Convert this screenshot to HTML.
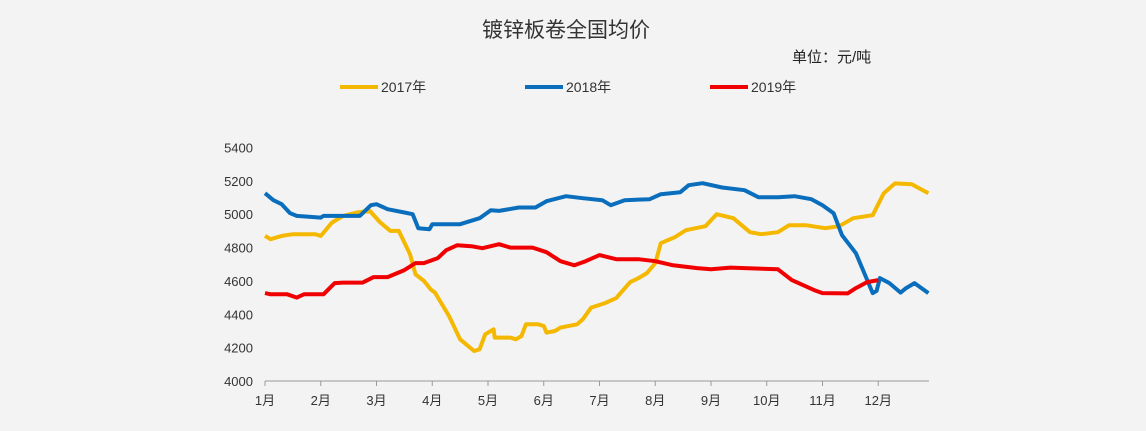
<!DOCTYPE html>
<html><head><meta charset="utf-8"><style>
html,body{margin:0;padding:0;background:#f3f3f3;}
svg text{font-family:"Liberation Sans","Noto Sans CJK SC",sans-serif;}
</style></head><body>
<svg width="1146" height="426" viewBox="0 0 1146 426">
<rect width="1146" height="426" fill="#f3f3f3"/>
<text x="566" y="37" font-size="21" text-anchor="middle" fill="#333">镀锌板卷全国均价</text>
<text x="792" y="62" font-size="15" fill="#222">单位：元/吨</text>
<g id="legend"></g>
<g id="axes"></g>
<g id="series"></g>
</svg>
<script>
const months=["1月","2月","3月","4月","5月","6月","7月","8月","9月","10月","11月","12月"];
const yTicks=[4000,4200,4400,4600,4800,5000,5200,5400];
const seriesNames=["2017年","2018年","2019年"];
const seriesColors=["#f5b800","#0a6ebd","#f00000"];
const x2017=[0,0.1,0.3,0.5,0.9,1.0,1.2,1.4,1.65,1.88,2.07,2.25,2.4,2.6,2.7,2.85,2.97,3.05,3.3,3.5,3.75,3.85,3.95,4.1,4.12,4.4,4.5,4.6,4.68,4.9,5.0,5.05,5.2,5.3,5.6,5.7,5.85,6.1,6.3,6.55,6.7,6.85,7.0,7.1,7.35,7.55,7.9,8.1,8.4,8.7,8.9,9.2,9.4,9.7,10.05,10.3,10.55,10.9,11.1,11.3,11.6,11.9];
const v2017=[4870,4850,4870,4880,4880,4870,4950,4990,5010,5020,4950,4900,4900,4760,4640,4600,4550,4530,4390,4250,4180,4190,4280,4310,4260,4260,4250,4270,4340,4340,4330,4290,4300,4320,4340,4370,4440,4467,4497,4593,4617,4647,4707,4826,4862,4904,4928,5000,4976,4892,4880,4892,4934,4934,4916,4928,4976,4994,5126,5185,5180,5126];
const x2018=[0,0.15,0.3,0.45,0.57,1.0,1.05,1.7,1.9,2.0,2.2,2.5,2.65,2.75,2.95,3.0,3.25,3.5,3.85,4.05,4.2,4.55,4.85,5.05,5.4,5.7,6.05,6.2,6.45,6.9,7.1,7.45,7.6,7.85,8.2,8.6,8.85,9.2,9.5,9.8,10.0,10.2,10.35,10.6,10.75,10.9,10.97,11.03,11.2,11.4,11.5,11.65,11.9];
const v2018=[5126,5084,5060,5006,4990,4980,4990,4990,5054,5060,5030,5010,5000,4916,4910,4940,4940,4940,4976,5024,5020,5040,5040,5078,5108,5096,5084,5054,5084,5090,5120,5132,5174,5186,5160,5144,5102,5102,5108,5090,5054,5006,4874,4766,4647,4527,4540,4617,4587,4530,4557,4587,4527];
const x2019=[0,0.1,0.4,0.57,0.7,1.05,1.25,1.4,1.75,1.95,2.2,2.5,2.7,2.85,3.1,3.25,3.45,3.7,3.9,4.2,4.4,4.8,5.05,5.3,5.55,5.75,6.0,6.3,6.7,7.0,7.3,7.75,8.0,8.35,8.6,9.2,9.45,9.85,10.0,10.45,10.6,10.8,11.0];
const v2019=[4527,4520,4520,4500,4520,4520,4587,4590,4590,4623,4623,4665,4707,4707,4737,4784,4814,4808,4796,4820,4800,4800,4772,4718,4694,4718,4755,4730,4730,4718,4695,4677,4670,4680,4677,4670,4605,4545,4527,4525,4557,4593,4605];

const NS="http://www.w3.org/2000/svg";
const X0=265,XM=55.75,Y0=381,YS=233.5/1400;
function xs(m){return X0+m*XM;}
function ys(v){return Y0-(v-4000)*YS;}
function mk(t,a,parent){const e=document.createElementNS(NS,t);for(const k in a)e.setAttribute(k,a[k]);parent.appendChild(e);return e;}
const axes=document.getElementById('axes');
const ax=mk('line',{x1:X0,y1:Y0,x2:929,y2:Y0,stroke:'#999','stroke-width':1},axes);


months.forEach((m,i)=>{
  const tk=mk('line',{x1:xs(i),y1:Y0,x2:xs(i),y2:Y0+5,stroke:'#999'},axes);
  
  
  const t=mk('text',{x:xs(i),y:Y0+24,'font-size':13,'text-anchor':'middle',fill:'#333'},axes);
  t.textContent=m;
  
  
});
yTicks.forEach(v=>{
  const t=mk('text',{x:253,y:ys(v)+5,'font-size':13,'text-anchor':'end',fill:'#333'},axes);
  t.textContent=v;
  
  
});
const sx=[x2017,x2018,x2019],sv=[v2017,v2018,v2019];
const ser=document.getElementById('series');
for(let s=0;s<3;s++){
  const d=sx[s].map((m,i)=>(i?'L':'M')+xs(m).toFixed(1)+','+ys(sv[s][i]).toFixed(1)).join('');
  const p=mk('path',{d:d,fill:'none',stroke:seriesColors[s],'stroke-width':4,'stroke-linejoin':'round'},ser);
  
  
}
const lg=document.getElementById('legend');
const lx=[340,525,710];
for(let s=0;s<3;s++){
  const g=mk('g',{},lg);
  
  
  mk('line',{x1:lx[s],y1:87,x2:lx[s]+38,y2:87,stroke:seriesColors[s],'stroke-width':4},g);
  const t=mk('text',{x:lx[s]+41,y:92,'font-size':14,fill:'#333'},g);
  t.textContent=seriesNames[s];
}
</script>
</body></html>
